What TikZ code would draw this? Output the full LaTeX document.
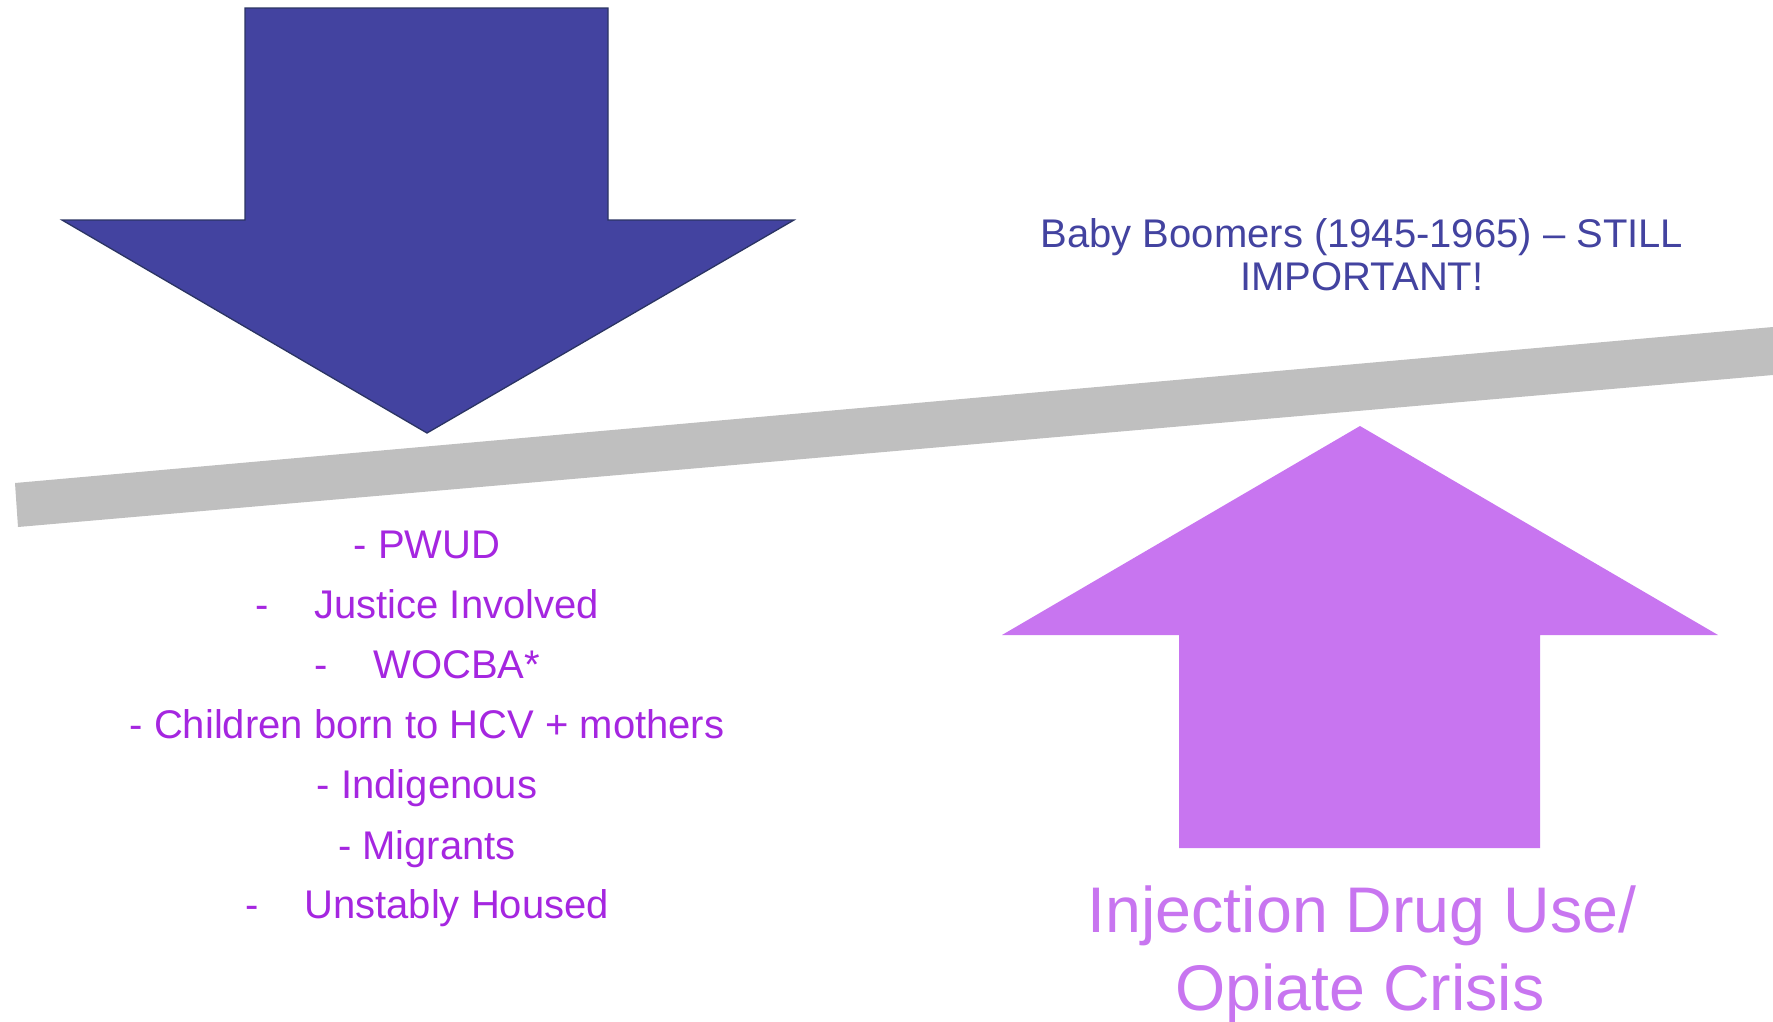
\documentclass[tikz,border=0pt]{standalone}
\usepackage{fontspec}
\setmainfont{Liberation Sans}
\definecolor{darrow}{HTML}{4343A0}
\definecolor{darrowline}{HTML}{2B3463}
\definecolor{uarrow}{HTML}{C875F0}
\definecolor{bargray}{HTML}{BFBFBF}
\definecolor{listpurple}{HTML}{A526E0}
\definecolor{boomer}{HTML}{4343A0}
\begin{document}
\begin{tikzpicture}[x=1pt,y=-1pt,
  listitem/.style={anchor=base,inner sep=0pt,text=listpurple,font=\fontsize{40}{46}\selectfont},
  boomtext/.style={anchor=base,inner sep=0pt,text=boomer,font=\fontsize{40}{43}\selectfont},
  bigtext/.style={anchor=base,inner sep=0pt,text=uarrow,font=\fontsize{64.5}{78}\selectfont}]
\useasboundingbox (0,0) rectangle (1773,1021);
% down arrow
\fill[darrow,draw=darrowline,line width=1.3pt,line join=miter]
  (245,8) -- (608,8) -- (608,220) -- (794,220) -- (427,433) -- (62,220) -- (245,220) -- cycle;
% gray bar
\fill[bargray] (15,483) -- (1773,327) -- (1773,375) -- (18,527) -- cycle;
% up arrow
\fill[uarrow] (1360,426) -- (1718,635) -- (1540,635) -- (1540,848) -- (1179,848) -- (1179,635) -- (1002,635) -- cycle;
% baby boomers
\node[boomtext] (bb1) at (1362,247) {Baby Boomers (1945-1965) – STILL};
\node[boomtext] (bb2) at (1362,290) {IMPORTANT!};
% list
\node[listitem] (l1) at (427,558) {- PWUD};
\node[listitem] (l2) at (427,618) {-\hspace{46pt}Justice Involved};
\node[listitem] (l3) at (427,678) {-\hspace{46pt}WOCBA*};
\node[listitem] (l4) at (427,738) {- Children born to HCV + mothers};
\node[listitem] (l5) at (427,798) {- Indigenous};
\node[listitem] (l6) at (427,859) {- Migrants};
\node[listitem] (l7) at (427,918) {-\hspace{46pt}Unstably Housed};
% bottom right
\node[bigtext] (idu1) at (1362,932) {Injection Drug Use/};
\node[bigtext] (idu2) at (1360,1010) {Opiate Crisis};
\end{tikzpicture}
\end{document}
